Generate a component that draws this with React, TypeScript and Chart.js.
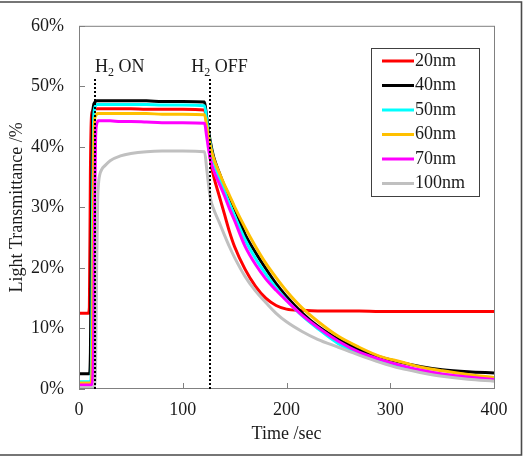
import React, { useEffect, useRef } from "react";
import { Chart, registerables } from "chart.js";

Chart.register(...registerables);

// Sample times (seconds) shared by every film thickness
const timeSec = [
  0, 9, 10, 11, 12, 13, 14, 15, 16, 17,
  18, 19, 20, 22, 25, 30, 40, 50, 65, 80,
  100, 121, 123, 125, 127, 130, 135, 140, 145, 150,
  160, 170, 180, 190, 200, 215, 230, 250, 270, 290,
  310, 330, 350, 375, 400,
];

// Light transmittance (%) for each film thickness
const t20nm = [
  12.5, 12.5, 13.5, 36, 45, 45.9, 46.2, 46.3, 46.3, 46.3,
  46.3, 46.3, 46.3, 46.3, 46.3, 46.3, 46.3, 46.3, 46.2, 46.2,
  46.2, 46.1, 44, 40.5, 37.5, 35, 32, 29, 26, 23.5,
  19.8, 17, 15, 13.8, 13.2, 13, 12.9, 12.9, 12.9, 12.8,
  12.8, 12.8, 12.8, 12.8, 12.8,
];
const t40nm = [
  2.5, 2.5, 2.6, 6, 28, 44, 46.8, 47.3, 47.5, 47.6,
  47.6, 47.6, 47.6, 47.6, 47.6, 47.6, 47.6, 47.6, 47.6, 47.5,
  47.5, 47.4, 45, 42.5, 40.5, 38.2, 35.8, 33.6, 31.7, 29.8,
  25.6, 22.6, 19.9, 17.4, 15.3, 12.6, 10.4, 8.2, 6.5, 5.3,
  4.4, 3.7, 3.2, 2.85, 2.65,
];
const t50nm = [
  1.2, 1.2, 1.2, 1.3, 4, 28, 44, 46.3, 46.8, 47,
  47, 47, 47, 47, 47, 47, 47, 47, 47, 46.9,
  46.9, 46.8, 44.5, 42, 40, 37.6, 35, 32.8, 30.6, 28.6,
  24.7, 21.6, 19, 16.7, 14.7, 12.1, 10, 7.5, 5.9, 4.6,
  3.7, 3, 2.4, 1.9, 1.5,
];
const t60nm = [
  1.0, 1.0, 1.0, 1.0, 1.3, 9, 37, 44.3, 45.1, 45.4,
  45.5, 45.5, 45.5, 45.5, 45.5, 45.5, 45.5, 45.5, 45.5, 45.4,
  45.4, 45.3, 43.6, 41.7, 39.8, 38, 35.8, 33.8, 32, 30.1,
  26.7, 23.6, 20.8, 18.4, 16.2, 13.4, 11.2, 8.7, 6.9, 5.4,
  4.5, 3.6, 3.0, 2.4, 1.9,
];
const t70nm = [
  0.65, 0.65, 0.65, 0.65, 0.7, 1.2, 7, 29, 41.5, 43.7,
  44.2, 44.3, 44.3, 44.3, 44.3, 44.3, 44.2, 44.2, 44.1, 44,
  44, 43.9, 41.8, 39.5, 37.7, 36, 34, 32, 29.8, 27.8,
  23.6, 20.6, 18.2, 16.3, 14.6, 12.2, 10.2, 7.9, 6.1, 4.9,
  3.9, 3.1, 2.5, 2.0, 1.55,
];
const t100nm = [
  0.2, 0.2, 0.2, 0.2, 0.2, 0.2, 0.3, 0.6, 4, 20,
  31, 34.3, 35.4, 36.3, 36.9, 37.7, 38.5, 38.9, 39.2, 39.3,
  39.3, 39.2, 36.5, 33.5, 31.2, 29.6, 27.6, 25.5, 23.5, 21.7,
  18.6, 16.2, 14.3, 12.5, 11.1, 9.5, 8.2, 6.9, 5.6, 4.4,
  3.4, 2.7, 2.1, 1.6, 1.3,
];

const seriesLabels = ["20nm", "40nm", "50nm", "60nm", "70nm", "100nm"];
const seriesValues = [t20nm, t40nm, t50nm, t60nm, t70nm, t100nm];
const seriesColors = ["#FF0000", "#000000", "#00FFFF", "#FFC000", "#FF00FF", "#C0C0C0"];

const xTicks = [0, 100, 200, 300, 400];
const yTicks = [0, 10, 20, 30, 40, 50, 60];

// Gas switching events
const h2OnTime = 15;
const h2OffTime = 126.5;
const eventLineTop = 51.2;

const FONT = '"Liberation Serif", "Times New Roman", serif';
const TEXT = "#1a1a1a";

const framePlugin = {
  id: "frameAndMarks",
  beforeDraw(chart: any) {
    const { ctx } = chart;
    ctx.save();
    ctx.fillStyle = "#ffffff";
    ctx.fillRect(0, 0, chart.width, chart.height);
    // outer picture frame
    ctx.strokeStyle = "#4a4a4a";
    ctx.lineWidth = 1.6;
    ctx.beginPath();
    ctx.moveTo(0, 2);
    ctx.lineTo(521.5, 2);
    ctx.lineTo(521.5, 455);
    ctx.lineTo(0, 455);
    ctx.stroke();
    ctx.restore();
  },
  afterDatasetsDraw(chart: any) {
    const { ctx, chartArea: ca, scales } = chart;
    const xs = scales.x;
    const ys = scales.y;
    ctx.save();

    // plot frame
    ctx.strokeStyle = "#808080";
    ctx.lineWidth = 1;
    ctx.strokeRect(ca.left + 0.5, ca.top + 0.5, ca.right - ca.left, ca.bottom - ca.top - 1);

    // inward tick marks
    ctx.beginPath();
    for (const v of yTicks) {
      const y = Math.round(ys.getPixelForValue(v)) + 0.5;
      ctx.moveTo(ca.left, y);
      ctx.lineTo(ca.left + 6, y);
    }
    for (const v of xTicks) {
      const x = Math.round(xs.getPixelForValue(v)) + 0.5;
      ctx.moveTo(x, ca.bottom);
      ctx.lineTo(x, ca.bottom - 6);
    }
    ctx.stroke();

    // H2 on / off event lines
    ctx.strokeStyle = "#000000";
    ctx.lineWidth = 2;
    ctx.setLineDash([2, 2]);
    for (const t of [h2OnTime, h2OffTime]) {
      const x = Math.round(xs.getPixelForValue(t));
      ctx.beginPath();
      ctx.moveTo(x, ys.getPixelForValue(eventLineTop));
      ctx.lineTo(x, ca.bottom);
      ctx.stroke();
    }
    ctx.setLineDash([]);

    const drawH2 = (x: number, y: number, rest: string) => {
      ctx.fillStyle = TEXT;
      ctx.textBaseline = "alphabetic";
      ctx.textAlign = "left";
      ctx.font = `normal 18px ${FONT}`;
      ctx.fillText("H", x, y);
      const w1 = ctx.measureText("H").width;
      ctx.font = `normal 12px ${FONT}`;
      ctx.fillText("2", x + w1, y + 4);
      const w2 = ctx.measureText("2").width;
      ctx.font = `normal 18px ${FONT}`;
      ctx.fillText(rest, x + w1 + w2, y);
    };
    const labelY = ys.getPixelForValue(52.4);
    drawH2(xs.getPixelForValue(h2OnTime) + 0.5, labelY, " ON");
    drawH2(xs.getPixelForValue(h2OffTime) - 19, labelY, " OFF");

    // legend
    const bx = 371.5;
    const by = 48.5;
    ctx.strokeStyle = "#404040";
    ctx.lineWidth = 1;
    ctx.strokeRect(bx, by, 108, 148);
    ctx.font = `normal 18px ${FONT}`;
    ctx.textBaseline = "middle";
    chart.data.datasets.forEach((ds: any, i: number) => {
      const y = 61 + i * 24.5;
      ctx.strokeStyle = ds.borderColor;
      ctx.lineWidth = 3;
      ctx.beginPath();
      ctx.moveTo(382, y);
      ctx.lineTo(414, y);
      ctx.stroke();
      ctx.fillStyle = TEXT;
      ctx.fillText(ds.label, 415, y);
    });

    ctx.restore();
  },
};

export default function App() {
  const canvasRef = useRef<HTMLCanvasElement | null>(null);

  useEffect(() => {
    const canvas = canvasRef.current;
    if (!canvas) return;

    const datasets = seriesLabels.map((label, i) => ({
      label,
      data: timeSec.map((t, k) => ({ x: t, y: seriesValues[i][k] })),
      borderColor: seriesColors[i],
      backgroundColor: seriesColors[i],
      borderWidth: 3,
      pointRadius: 0,
      cubicInterpolationMode: "monotone" as const,
      order: seriesLabels.length - i,
    }));

    const axisFont = { family: FONT, size: 18, weight: "normal" as const };

    const chart = new Chart(canvas, {
      type: "line",
      data: { datasets },
      plugins: [framePlugin],
      options: {
        animation: false,
        responsive: false,
        devicePixelRatio: 1,
        layout: { padding: { left: 0, top: 19, right: 30, bottom: 0 } },
        plugins: { legend: { display: false }, tooltip: { enabled: false } },
        scales: {
          x: {
            type: "linear",
            min: 0,
            max: 400,
            border: { display: false },
            grid: { display: false, drawTicks: false },
            afterBuildTicks: (s: any) => {
              s.ticks = xTicks.map((v) => ({ value: v }));
            },
            afterFit: (s: any) => {
              s.height = 67;
            },
            ticks: {
              font: axisFont,
              color: TEXT,
              padding: 10,
              maxRotation: 0,
              autoSkip: false,
            },
            title: {
              display: true,
              text: "Time /sec",
              font: axisFont,
              color: TEXT,
              padding: { top: 0, bottom: 11 },
            },
          },
          y: {
            type: "linear",
            min: 0,
            max: 60,
            border: { display: false },
            grid: { display: false, drawTicks: false },
            afterBuildTicks: (s: any) => {
              s.ticks = yTicks.map((v) => ({ value: v }));
            },
            afterFit: (s: any) => {
              s.width = 79;
            },
            ticks: {
              font: axisFont,
              color: TEXT,
              padding: 15,
              callback: (v: any) => `${v}%`,
            },
            title: {
              display: true,
              text: "Light Transmittance /%",
              font: axisFont,
              color: TEXT,
              padding: { top: 6, bottom: 0 },
            },
          },
        },
      },
    });

    return () => chart.destroy();
  }, []);

  return (
    <div style={{ position: "absolute", left: 0, top: 0, width: 524, height: 456, background: "#fff" }}>
      <canvas ref={canvasRef} width={524} height={456} style={{ display: "block", width: 524, height: 456 }} />
    </div>
  );
}
